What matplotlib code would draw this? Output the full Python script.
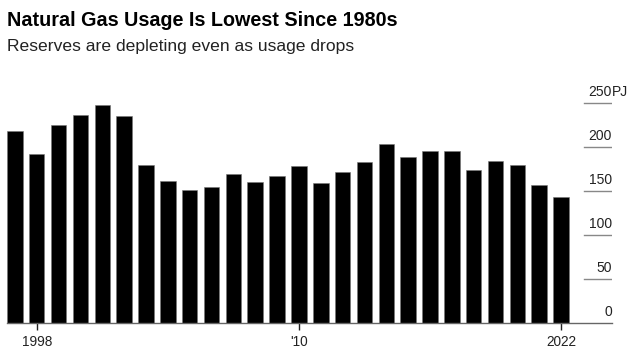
import matplotlib.pyplot as plt
import matplotlib.transforms as mtransforms

# Natural gas usage, PJ
anos = list(range(1997, 2023))
consumo = [218.7, 191.8, 224.8, 236.2, 247.9, 235.8, 179.6, 161.7, 150.8, 154.6,
           169.4, 159.9, 166.7, 178.5, 159.5, 171.6, 182.7, 203.9, 188.7, 195.9,
           195.2, 173.9, 184.2, 179.6, 156.5, 142.8]

ticks_x = [1998, 2010, 2022]
rotulos_x = ["1998", "'10", "2022"]
ticks_y = [0, 50, 100, 150, 200, 250]

plt.rcParams['font.family'] = ['Liberation Sans', 'DejaVu Sans']

fig = plt.figure(figsize=(6.32, 3.58), dpi=100)
ax = fig.add_axes([7 / 632, 1 - 322.7 / 358, 605 / 632, (322.7 - 80) / 358])

ax.bar(anos, consumo, width=0.71, color='black', edgecolor='#777777', linewidth=0.4, zorder=2)

ax.set_xlim(1996.64, 2024.33)
ax.set_ylim(0, 276.5)

for s in ['top', 'right', 'left']:
    ax.spines[s].set_visible(False)
ax.spines['bottom'].set_color('#666666')
ax.spines['bottom'].set_linewidth(1.0)
ax.spines['bottom'].set_zorder(3)

ax.set_xticks(ticks_x)
ax.set_xticklabels(rotulos_x, fontsize=9.8, color='#222222')
ax.tick_params(axis='x', direction='out', length=5, width=1, color='#222222', pad=4)
ax.set_yticks([])

# right-side labels with short grid segments
desloc = mtransforms.offset_copy(ax.transData, fig=fig, x=0, y=4, units='dots')
for v in ticks_y:
    if v > 0:
        ax.axhline(v, xmin=0.954, xmax=1.0, color='#888888', linewidth=1.0, zorder=1)
    ax.text(2024.33, v, str(v), transform=desloc, ha='right', va='bottom',
            fontsize=10, color='#222222')
    if v == ticks_y[-1]:
        ax.text(2024.33, v, "PJ", transform=desloc, ha='left', va='bottom',
                fontsize=10, color='#222222', clip_on=False)

fig.text(7 / 632, 1 - 20 / 358, "Natural Gas Usage Is Lowest Since 1980s",
         fontsize=14.2, fontweight='bold', va='center', ha='left', color='black')
fig.text(7 / 632, 1 - 47 / 358, "Reserves are depleting even as usage drops",
         fontsize=12.6, va='center', ha='left', color='#222222')

fig.savefig('out.png', dpi=100)
